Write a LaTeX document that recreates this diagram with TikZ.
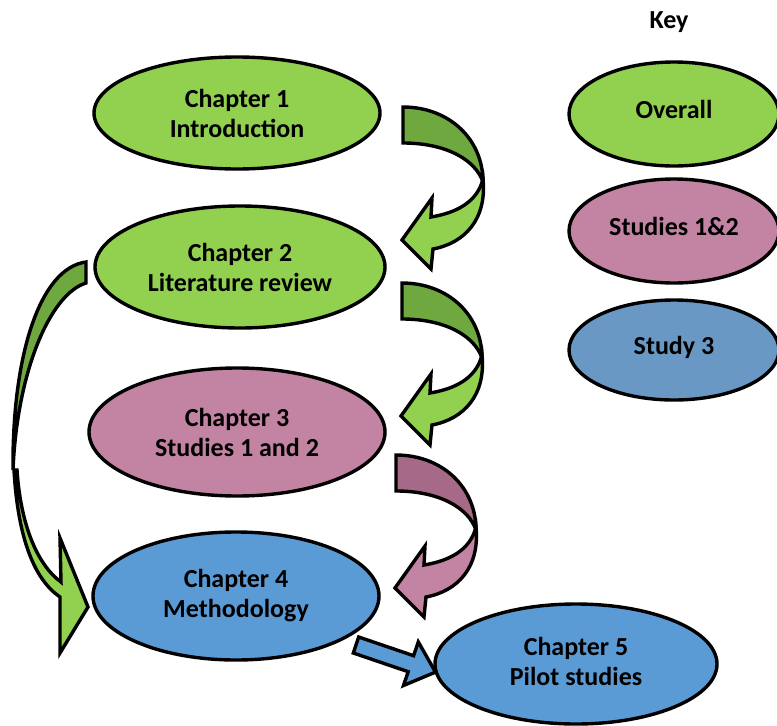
\documentclass[tikz,border=0pt]{standalone}
\usepackage{fontspec}
\setmainfont{Carlito}
\usetikzlibrary{shapes.geometric}

\definecolor{ovgreen}{HTML}{92D050}
\definecolor{ovgreendark}{HTML}{6EA83E}
\definecolor{stpink}{HTML}{C383A3}
\definecolor{stpinkdark}{HTML}{A66A88}
\definecolor{stblue}{HTML}{5B9BD5}
\definecolor{keyblue}{HTML}{6A98C4}

% curled block arrow, origin = top left corner of its tail
\newcommand{\curlarrow}[3]{%
  \begin{scope}[shift={#1}]
    \filldraw[arrowline, fill=#2] (0,0) .. controls (46,0) and (80,32) .. (80,75)
      .. controls (72,52) and (42,36) .. (0,36) -- cycle;
    \filldraw[arrowline, fill=#3] (80,72) .. controls (84,112) and (62,136) .. (30,142)
      -- (28,162) -- (-1,133) -- (29,91) -- (28,110)
      .. controls (52,106) and (74,96) .. (80,72) -- cycle;
  \end{scope}}

\begin{document}
\begin{tikzpicture}[x=1pt, y=-1pt,
  chap/.style={ellipse, draw=black, line width=3.4pt, inner sep=0pt, align=center,
    font=\fontsize{26}{30}\selectfont\bfseries},
  overall/.style={chap, fill=ovgreen},
  studies/.style={chap, fill=stpink},
  method/.style={chap, fill=stblue},
  arrowline/.style={draw=black, line width=3.4pt, line join=miter}]
\useasboundingbox (0,0) rectangle (777,726);

% chapters
\node[overall, minimum width=286, minimum height=112] (ch1) at (237,113) {Chapter 1\\Introduction};
\node[overall, minimum width=290, minimum height=122] (ch2) at (240,267) {Chapter 2\\Literature review};
\node[studies, minimum width=296, minimum height=128] (ch3) at (237,432) {Chapter 3\\Studies 1 and 2};
\node[method, minimum width=286, minimum height=128] (ch4) at (236,596) {Chapter 4\\Methodology};
\node[method, minimum width=282, minimum height=120] (ch5) at (576,664)
  {\raisebox{4pt}{\begin{tabular}{@{}c@{}}Chapter 5\\Pilot studies\end{tabular}}};

% key
\node[font=\fontsize{26}{30}\selectfont\bfseries] (key) at (669,22) {Key};
\node[overall, minimum width=210, minimum height=104] (k1) at (674,114) {\raisebox{9pt}{Overall}};
\node[studies, minimum width=210, minimum height=104] (k2) at (674,231) {\raisebox{9pt}{Studies 1\&2}};
\node[chap, fill=keyblue, minimum width=210, minimum height=100] (k3) at (674,350) {\raisebox{9pt}{Study 3}};

% curled arrows on the right
\curlarrow{(403,107)}{ovgreendark}{ovgreen}
\curlarrow{(402,283)}{ovgreendark}{ovgreen}
\curlarrow{(396,455)}{stpinkdark}{stpink}

% long arrow on the left, chapter 2 to chapter 4
\filldraw[arrowline, fill=ovgreendark] (86,262) .. controls (40,268) and (12,355) .. (13,470)
  .. controls (17,372) and (50,294) .. (86,283) -- cycle;
\filldraw[arrowline, fill=ovgreen] (14,470) .. controls (18,540) and (35,580) .. (60,597)
  -- (60,653) -- (88,607) -- (60,538) -- (61,582)
  .. controls (40,567) and (21,530) .. (17,470) -- cycle;

% chapter 4 to chapter 5
\filldraw[arrowline, fill=stblue] (358.7,637) -- (413.6,655.7) -- (418.3,641.9) -- (435.5,672.1)
  -- (403.5,685.5) -- (408.2,671.7) -- (353.3,653) -- cycle;
\end{tikzpicture}
\end{document}
